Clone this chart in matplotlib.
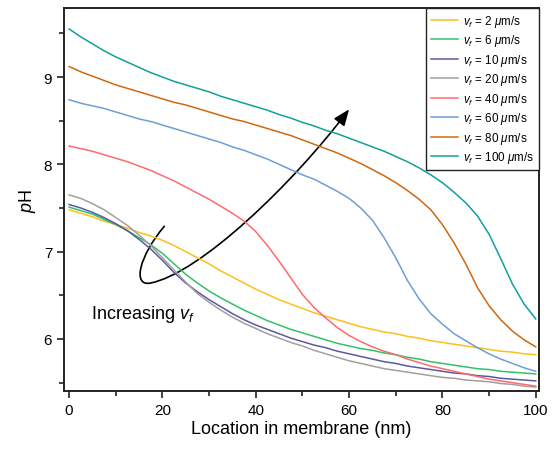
import numpy as np
import matplotlib
matplotlib.use("Agg")
import matplotlib.pyplot as plt
from matplotlib.path import Path
from matplotlib.patches import FancyArrowPatch

plt.rcParams.update({
    'font.family': ['Liberation Sans', 'DejaVu Sans'],
    'mathtext.fontset': 'custom',
    'mathtext.rm': 'Liberation Sans',
    'mathtext.it': 'Liberation Sans:italic',
    'font.size': 11,
})

# location in membrane (nm), every 2.5 nm
x = np.arange(0, 100.1, 2.5)

# pH, one list per filtration velocity
ph_2 = [7.48, 7.44, 7.40, 7.35, 7.31, 7.27, 7.22, 7.18, 7.13, 7.07, 7.00,
        6.93, 6.86, 6.78, 6.71, 6.64, 6.57, 6.51, 6.45, 6.40, 6.35,
        6.30, 6.26, 6.22, 6.18, 6.14, 6.11, 6.08, 6.06, 6.03, 6.01,
        5.98, 5.96, 5.94, 5.92, 5.90, 5.88, 5.86, 5.85, 5.83, 5.82]
ph_6 = [7.51, 7.47, 7.43, 7.37, 7.31, 7.24, 7.16, 7.08, 6.98, 6.86, 6.74,
        6.64, 6.55, 6.47, 6.40, 6.33, 6.27, 6.21, 6.16, 6.11, 6.07,
        6.03, 5.99, 5.95, 5.92, 5.89, 5.87, 5.84, 5.82, 5.79, 5.77,
        5.74, 5.72, 5.70, 5.68, 5.66, 5.65, 5.63, 5.62, 5.61, 5.60]
ph_10 = [7.54, 7.50, 7.45, 7.39, 7.32, 7.24, 7.14, 7.03, 6.90, 6.76, 6.64,
         6.54, 6.45, 6.37, 6.29, 6.22, 6.16, 6.11, 6.06, 6.01, 5.97,
         5.93, 5.90, 5.86, 5.83, 5.80, 5.77, 5.74, 5.72, 5.69, 5.67,
         5.65, 5.63, 5.61, 5.60, 5.58, 5.57, 5.55, 5.54, 5.53, 5.52]
ph_20 = [7.65, 7.61, 7.55, 7.48, 7.39, 7.30, 7.19, 7.07, 6.93, 6.79, 6.65,
         6.52, 6.42, 6.33, 6.25, 6.18, 6.12, 6.06, 6.01, 5.96, 5.92,
         5.87, 5.83, 5.79, 5.75, 5.72, 5.69, 5.66, 5.64, 5.62, 5.60,
         5.58, 5.56, 5.55, 5.53, 5.52, 5.51, 5.49, 5.48, 5.46, 5.45]
ph_40 = [8.21, 8.18, 8.15, 8.11, 8.07, 8.03, 7.98, 7.93, 7.87, 7.81, 7.74,
         7.67, 7.60, 7.52, 7.44, 7.35, 7.23, 7.07, 6.89, 6.70, 6.51,
         6.36, 6.24, 6.13, 6.04, 5.97, 5.91, 5.86, 5.82, 5.77, 5.73,
         5.69, 5.66, 5.63, 5.60, 5.57, 5.54, 5.52, 5.50, 5.48, 5.46]
ph_60 = [8.74, 8.70, 8.67, 8.64, 8.60, 8.56, 8.52, 8.49, 8.45, 8.41, 8.37,
         8.33, 8.29, 8.25, 8.20, 8.16, 8.11, 8.06, 8.00, 7.94, 7.88,
         7.83, 7.76, 7.69, 7.61, 7.50, 7.36, 7.16, 6.93, 6.67, 6.46,
         6.29, 6.17, 6.06, 5.98, 5.90, 5.83, 5.77, 5.72, 5.67, 5.63]
ph_80 = [9.12, 9.06, 9.01, 8.96, 8.91, 8.87, 8.83, 8.79, 8.75, 8.71, 8.68,
         8.64, 8.60, 8.56, 8.52, 8.49, 8.45, 8.41, 8.37, 8.33, 8.28,
         8.23, 8.18, 8.13, 8.07, 8.01, 7.94, 7.87, 7.79, 7.70, 7.60,
         7.48, 7.31, 7.10, 6.86, 6.59, 6.38, 6.22, 6.09, 5.99, 5.91]
ph_100 = [9.55, 9.46, 9.38, 9.30, 9.23, 9.17, 9.11, 9.05, 9.00, 8.95, 8.91,
          8.87, 8.83, 8.78, 8.74, 8.70, 8.66, 8.62, 8.57, 8.53, 8.48,
          8.44, 8.39, 8.35, 8.30, 8.25, 8.20, 8.15, 8.09, 8.03, 7.96,
          7.88, 7.79, 7.68, 7.56, 7.41, 7.20, 6.92, 6.63, 6.40, 6.23]

velocities = [2, 6, 10, 20, 40, 60, 80, 100]
series = [ph_2, ph_6, ph_10, ph_20, ph_40, ph_60, ph_80, ph_100]
colors = ['#FFBF1A', '#33C06A', '#5A5A9E', '#A0A0A0',
          '#FF6A6E', '#6C9FD6', '#CC6A10', '#10A09A']

fig = plt.figure(figsize=(5.53, 4.52), dpi=100)
ax = fig.add_axes([0.1157, 0.1327, 0.859, 0.8473])

for v, ph, c in zip(velocities, series, colors):
    ax.plot(x, ph, color=c, lw=1.1, label=rf'$v_f$ = {v} $\mu$m/s')

###
### Axes
###
ax.set_xlim(-1.1, 100.7)
ax.set_ylim(5.404, 9.79)
ax.set_xticks([0, 20, 40, 60, 80, 100])
ax.set_xticks(np.arange(10, 100, 20), minor=True)
ax.set_yticks([6, 7, 8, 9])
ax.set_yticks([5.5, 6.5, 7.5, 8.5, 9.5], minor=True)
ax.tick_params(which='major', direction='out', length=5, width=1.2,
               labelsize=11, color='#222222')
ax.tick_params(which='minor', direction='out', length=3.5, width=1.2,
               color='#222222')
for s in ax.spines.values():
    s.set_linewidth(1.4)
    s.set_color('#222222')

ax.set_xlabel('Location in membrane (nm)', fontsize=13, labelpad=2)
ax.set_ylabel(r'$p$H', fontsize=13, labelpad=4)

###
### Legend
###
leg = ax.legend(loc='upper right', borderaxespad=0, fontsize=8.4,
                fancybox=False, handlelength=2.35, labelspacing=0.3,
                handletextpad=0.45, borderpad=0.4, framealpha=1)
leg.get_frame().set_edgecolor('#222222')
leg.get_frame().set_linewidth(1.0)

###
### Annotation arrow
###
verts = [(20.4, 7.29), (15.0, 6.95), (13.5, 6.60), (17.4, 6.64),
         (28.0, 6.75), (48.0, 7.78), (60.0, 8.63)]
codes = [Path.MOVETO, Path.CURVE4, Path.CURVE4, Path.CURVE4,
         Path.CURVE4, Path.CURVE4, Path.CURVE4]
arrow = FancyArrowPatch(path=Path(verts, codes),
                        arrowstyle='-|>,head_length=0.7,head_width=0.28',
                        mutation_scale=14, color='black', lw=1.2)
ax.add_patch(arrow)
ax.text(4.7, 6.24, r'Increasing $v_f$', fontsize=13, ha='left',
        va='baseline')

plt.savefig('out.png', dpi=100)
